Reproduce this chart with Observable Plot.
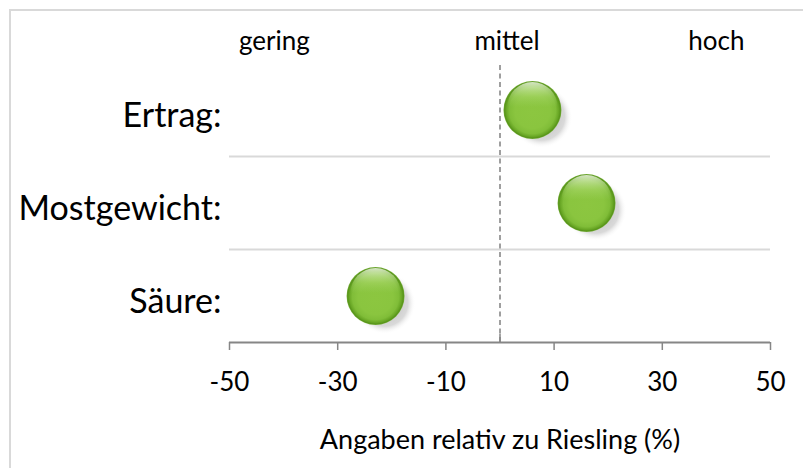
<!DOCTYPE html>
<html><head><meta charset="utf-8">
<script src="https://cdn.jsdelivr.net/npm/d3@7"></script>
<script src="https://cdn.jsdelivr.net/npm/@observablehq/plot@0.6"></script>
<style>
body{margin:0;background:#fff;}
#wrap{position:relative;width:803px;height:468px;overflow:hidden;background:#fff;}
#frame{position:absolute;left:9px;top:9px;width:900px;height:600px;border-left:2px solid #d9d9d9;border-top:2px solid #d9d9d9;box-sizing:border-box;}
#chart{position:absolute;left:0;top:0;}
</style></head><body>
<div id="wrap"><div id="frame"></div><div id="chart"></div></div>
<script>
const categories = ["Ertrag:", "Mostgewicht:", "Säure:"];
const values = [6, 16, -23];
const rowPos = [2.5, 1.5, 0.5];
const gridPos = [1, 2];
const xTicks = [-50, -30, -10, 10, 30, 50];
const levelLabels = ["gering", "mittel", "hoch"];
const levelPos = [-41.7, 1.3, 40];
const axisTitle = "Angaben relativ zu Riesling (%)";

const data = categories.map((c, i) => ({cat: c, value: values[i], pos: rowPos[i]}));
const levels = levelLabels.map((l, i) => ({label: l, x: levelPos[i]}));

const font = "Lato, 'Open Sans', sans-serif";

const plot = Plot.plot({
  width: 803, height: 468,
  marginLeft: 229, marginRight: 33, marginTop: 63, marginBottom: 126,
  style: {fontFamily: font, fontSize: "26px", color: "#000", background: "transparent", overflow: "visible"},
  x: {domain: [-50, 50], axis: null},
  y: {domain: [0, 3], axis: null},
  marks: [
    Plot.ruleY(gridPos, {x1: -50, x2: 50, stroke: "#d9d9d9", strokeWidth: 2}),
    Plot.ruleX([0], {y1: 0, y2: 3, stroke: "#808080", strokeWidth: 1.5, strokeDasharray: "5,3.5"}),
    Plot.ruleX([0], {y1: 0, y2: 0.09, stroke: "#868686", strokeWidth: 1.5}),
    Plot.ruleY([0], {x1: -50, x2: 50, stroke: "#868686", strokeWidth: 1.8}),
    Plot.axisX({ticks: xTicks, tickSize: 8, tickPadding: 22, stroke: "#868686", fill: "#000", fontSize: 26, tickFormat: d => d < 0 ? "-" + Math.abs(d) : String(d), label: null, strokeWidth: 1.5}),
    Plot.text([axisTitle], {x: 0, y: 0, dy: 98, fontSize: 27, fill: "#000", text: d => d}),
    Plot.text(levels, {x: "x", y: 3, dy: -22, text: "label", fontSize: 26, fill: "#000"}),
    Plot.text(data, {x: -50, y: "pos", text: "cat", dx: -8, dy: 6, textAnchor: "end", fontSize: 34, fill: "#000"}),
    Plot.dot(data, {x: "value", y: "pos", r: 31, dx: 9, dy: 7, fill: "url(#shadowGrad)", stroke: null}),
    Plot.dot(data, {x: "value", y: "pos", r: 29, fill: "url(#ballGrad)", stroke: null}),
    Plot.dot(data, {x: "value", y: "pos", r: 25, dy: -3, fill: "url(#hlGrad)", stroke: null})
  ]
});

const svg = d3.select(plot);
const defs = svg.insert("defs", ":first-child");
const bg = defs.append("radialGradient").attr("id", "ballGrad")
  .attr("cx", 0.5).attr("cy", 0.5).attr("r", 0.5).attr("fx", 0.5).attr("fy", 0.55);
[[0, "#8cc640"], [0.6, "#8ac53f"], [0.8, "#80bd38"], [0.9, "#6aa826"], [0.96, "#58951a"], [1, "#7ab040"]]
  .forEach(([o, c]) => bg.append("stop").attr("offset", o).attr("stop-color", c));
const sg = defs.append("radialGradient").attr("id", "shadowGrad")
  .attr("cx", 0.5).attr("cy", 0.5).attr("r", 0.5);
[[0, "#a0a0a0", 0.8], [0.75, "#c0c0c0", 0.6], [1, "#ffffff", 0]]
  .forEach(([o, c, a]) => sg.append("stop").attr("offset", o).attr("stop-color", c).attr("stop-opacity", a));
const hg = defs.append("linearGradient").attr("id", "hlGrad")
  .attr("x1", 0).attr("y1", 0).attr("x2", 0).attr("y2", 1);
[[0, "#ffffff", 0.75], [0.1, "#f2fbe4", 0.55], [0.3, "#b8e080", 0.35], [0.5, "#a8d870", 0.0], [1, "#ffffff", 0]]
  .forEach(([o, c, a]) => hg.append("stop").attr("offset", o).attr("stop-color", c).attr("stop-opacity", a));

document.getElementById("chart").appendChild(plot);
</script>
</body></html>
